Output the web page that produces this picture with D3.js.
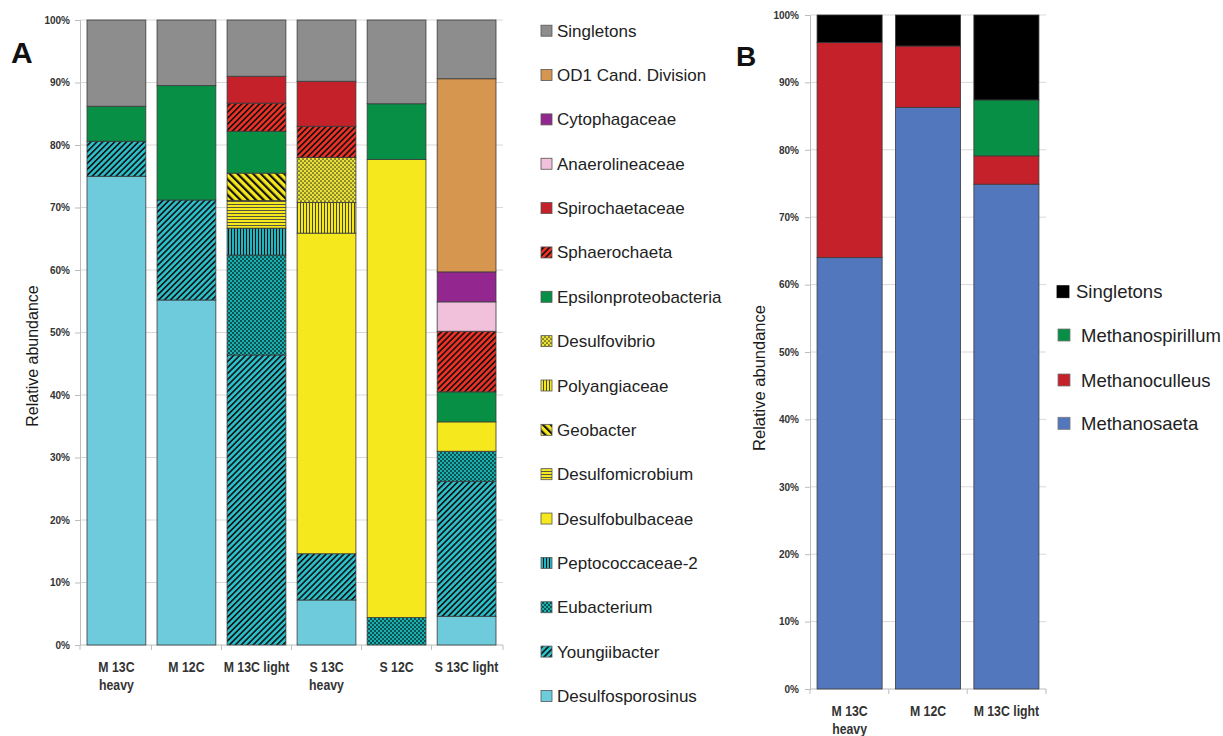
<!DOCTYPE html>
<html><head><meta charset="utf-8">
<script src="https://cdn.jsdelivr.net/npm/d3@7"></script>
<style>body{margin:0;background:#fff} svg{display:block;font-family:"Liberation Sans",Arial,sans-serif}</style>
</head><body><svg id="c" width="1223" height="736"></svg>
<script>
// ---------- DATA ----------
const samplesA = ["M 13C heavy","M 12C","M 13C light","S 13C heavy","S 12C","S 13C light"];
const xLabelsA = [["M 13C","heavy"],["M 12C"],["M 13C light"],["S 13C","heavy"],["S 12C"],["S 13C light"]];
const taxaA = ["Desulfosporosinus","Youngiibacter","Eubacterium","Peptococcaceae-2","Desulfobulbaceae",
  "Desulfomicrobium","Geobacter","Polyangiaceae","Desulfovibrio","Epsilonproteobacteria","Sphaerochaeta",
  "Spirochaetaceae","Anaerolineaceae","Cytophagaceae","OD1 Cand. Division","Singletons"];
const desulfosporosinus = [75, 55.2, 0, 7.2, 0, 4.6];
const youngiibacter     = [5.6, 16, 46.4, 7.4, 0, 21.6];
const eubacterium       = [0, 0, 16, 0, 4.4, 4.8];
const peptococcaceae2   = [0, 0, 4.3, 0, 0, 0];
const desulfobulbaceae  = [0, 0, 0, 51.3, 73.3, 4.7];
const desulfomicrobium  = [0, 0, 4.4, 0, 0, 0];
const geobacter         = [0, 0, 4.4, 0, 0, 0];
const polyangiaceae     = [0, 0, 0, 4.9, 0, 0];
const desulfovibrio     = [0, 0, 0, 7.2, 0, 0];
const epsilonproteo     = [5.6, 18.3, 6.7, 0, 8.9, 4.8];
const sphaerochaeta     = [0, 0, 4.5, 5, 0, 9.7];
const spirochaetaceae   = [0, 0, 4.3, 7.2, 0, 0];
const anaerolineaceae   = [0, 0, 0, 0, 0, 4.7];
const cytophagaceae     = [0, 0, 0, 0, 0, 4.8];
const od1               = [0, 0, 0, 0, 0, 30.9];
const singletonsA       = [13.8, 10.5, 9, 9.8, 13.4, 9.4];

const samplesB = ["M 13C heavy","M 12C","M 13C light"];
const xLabelsB = [["M 13C","heavy"],["M 12C"],["M 13C light"]];
const taxaB = ["Methanosaeta","Methanoculleus","Methanospirillum","Singletons"];
const methanosaeta     = [64, 86.3, 74.9];
const methanoculleus   = [31.9, 9.1, 4.2];
const methanospirillum = [0, 0, 8.3];
const singletonsB      = [4.1, 4.6, 12.6];

const yTicks = [0,10,20,30,40,50,60,70,80,90,100];

// ---------- STYLES ----------
const seriesA = [desulfosporosinus,youngiibacter,eubacterium,peptococcaceae2,desulfobulbaceae,desulfomicrobium,
  geobacter,polyangiaceae,desulfovibrio,epsilonproteo,sphaerochaeta,spirochaetaceae,anaerolineaceae,cytophagaceae,od1,singletonsA];
const seriesB = [methanosaeta,methanoculleus,methanospirillum,singletonsB];

const fillA = {
  "Desulfosporosinus":"#6dcbdc","Youngiibacter":"url(#pYoung)","Eubacterium":"url(#pEuba)",
  "Peptococcaceae-2":"url(#pPepto)","Desulfobulbaceae":"#f5e81c","Desulfomicrobium":"url(#pDmicro)",
  "Geobacter":"url(#pGeo)","Polyangiaceae":"url(#pPoly)","Desulfovibrio":"url(#pDvib)",
  "Epsilonproteobacteria":"#078f45","Sphaerochaeta":"url(#pSphaero)","Spirochaetaceae":"#c4212b",
  "Anaerolineaceae":"#f1c1dc","Cytophagaceae":"#93278f","OD1 Cand. Division":"#d6964f","Singletons":"#8d8d8d"};
const fillB = {"Methanosaeta":"#5277bd","Methanoculleus":"#c4212b","Methanospirillum":"#078f45","Singletons":"#000000"};

const svg = d3.select("#c");
const defs = svg.append("defs");

function stripes(id, bg, fg, size, lw, angle){
  const p = defs.append("pattern").attr("id",id).attr("patternUnits","userSpaceOnUse")
    .attr("width",size).attr("height",size).attr("patternTransform",`rotate(${angle})`);
  p.append("rect").attr("width",size).attr("height",size).attr("fill",bg);
  p.append("rect").attr("width",lw).attr("height",size).attr("fill",fg);
}
function lines(id, bg, fg, size, lw, vertical){
  const p = defs.append("pattern").attr("id",id).attr("patternUnits","userSpaceOnUse")
    .attr("width",size).attr("height",size);
  p.append("rect").attr("width",size).attr("height",size).attr("fill",bg);
  if (vertical) p.append("rect").attr("width",lw).attr("height",size).attr("fill",fg);
  else p.append("rect").attr("width",size).attr("height",lw).attr("fill",fg);
}
function dots(id, bg, fg, size, r){
  const p = defs.append("pattern").attr("id",id).attr("patternUnits","userSpaceOnUse")
    .attr("width",size).attr("height",size);
  p.append("rect").attr("width",size).attr("height",size).attr("fill",bg);
  [[size/4,size/4],[size*3/4,size*3/4]].forEach(([cx,cy])=>
    p.append("circle").attr("cx",cx).attr("cy",cy).attr("r",r).attr("fill",fg));
}
stripes("pYoung","#2bbfc9","#111",4.2,1.6,45);
stripes("pSphaero","#ee3124","#111",4.2,1.6,45);
stripes("pGeo","#f5e81c","#111",5.5,2.2,-45);
lines("pPepto","#22b5c0","#111",3,1,true);
lines("pPoly","#f5e81c","#333",3,0.9,true);
lines("pDmicro","#f5e81c","#444",3,0.9,false);
dots("pEuba","#1ab0b0","#0a2a2a",4,0.95);
dots("pDvib","#e9e03a","#3a3a1a",4,0.85);

// ---------- PANEL DRAW ----------
function panel(o){
  const g = svg.append("g");
  const x = d3.scaleBand().domain(o.samples).range([o.x0,o.x1]).paddingInner(o.pin).paddingOuter(o.pout);
  const y = d3.scaleLinear().domain([0,100]).range([o.y0,o.y1]);
  // gridlines
  g.append("g").selectAll("line").data(yTicks.slice(1)).join("line")
    .attr("x1",o.x0).attr("x2",o.x1).attr("y1",d=>y(d)).attr("y2",d=>y(d))
    .attr("stroke","#d9d9d9").attr("stroke-width",1);
  // y axis
  const ya = g.append("g").attr("transform",`translate(${o.x0},0)`)
    .call(d3.axisLeft(y).tickValues(yTicks).tickFormat(d=>d+"%").tickSize(5).tickPadding(o.tpad));
  ya.select(".domain").attr("stroke","#bdbdbd");
  ya.selectAll(".tick line").attr("stroke","#bdbdbd");
  ya.selectAll(".tick text").attr("font-family","Liberation Sans, Arial, sans-serif")
    .attr("font-size",10).attr("font-weight","bold").attr("fill","#333");
  // x axis line + band ticks
  g.append("line").attr("x1",o.x0).attr("x2",o.x1).attr("y1",o.y0).attr("y2",o.y0).attr("stroke","#bdbdbd");
  const bounds = d3.range(o.samples.length+1).map(i=> o.x0 + i*x.step() - (i===0?0:0));
  g.append("g").selectAll("line").data(o.samples.map((s,i)=>i).concat([o.samples.length])).join("line")
    .attr("x1",i=> i===0? o.x0 : (i===o.samples.length? o.x1 : x(o.samples[i]) - x.step()*x.paddingInner()/2))
    .attr("x2",i=> i===0? o.x0 : (i===o.samples.length? o.x1 : x(o.samples[i]) - x.step()*x.paddingInner()/2))
    .attr("y1",o.y0).attr("y2",o.y0+5).attr("stroke","#bdbdbd");
  // stacked bars
  const rows = o.samples.map((s,i)=>{ const r={sample:s}; o.taxa.forEach((t,j)=>r[t]=o.series[j][i]); return r; });
  const stack = d3.stack().keys(o.taxa)(rows);
  g.append("g").selectAll("g").data(stack).join("g").attr("fill",d=>o.fill[d.key])
    .selectAll("rect").data(d=>d.filter(p=>p[1]-p[0]>0)).join("rect")
    .attr("x",d=>x(d.data.sample)).attr("width",x.bandwidth())
    .attr("y",d=>y(d[1])).attr("height",d=>y(d[0])-y(d[1]))
    .attr("stroke","#3a3a3a").attr("stroke-width",0.8);
  // x labels
  o.samples.forEach((s,i)=>{
    o.xlabels[i].forEach((line,k)=>{
      g.append("text").attr("transform",`translate(${x(s)+x.bandwidth()/2},${o.y0+o.lab0+k*18}) scale(0.82,1)`)
        .attr("text-anchor","middle").attr("font-size",15).attr("font-weight","bold").attr("fill","#333").text(line);
    });
  });
  // y title
  g.append("text").attr("transform",`translate(${o.ytx},${o.yty}) rotate(-90)`).attr("text-anchor","middle")
    .attr("font-size",o.ytfs).attr("fill","#1a1a1a").text("Relative abundance");
  // panel letter
  g.append("text").attr("x",o.lx).attr("y",o.ly).attr("font-size",o.lfs).attr("font-weight","bold").attr("fill","#111").text(o.letter);
}

panel({samples:samplesA, xlabels:xLabelsA, taxa:taxaA, series:seriesA, fill:fillA,
  x0:80, x1:503, y0:645, y1:20, pin:0.16, pout:0.1, tpad:5, lab0:27,
  ytx:38, yty:356, ytfs:16, letter:"A", lx:11, ly:63, lfs:30});
panel({samples:samplesB, xlabels:xLabelsB, taxa:taxaB, series:seriesB, fill:fillB,
  x0:810, x1:1046, y0:689, y1:15, pin:0.17, pout:0.09, tpad:6, lab0:27,
  ytx:765, yty:378, ytfs:16.5, letter:"B", lx:736, ly:66, lfs:28});

// ---------- LEGENDS ----------
const legA = svg.append("g");
const legOrderA = taxaA.slice().reverse();
legOrderA.forEach((t,i)=>{
  const cy = 30.7 + i*44.35;
  legA.append("rect").attr("x",541).attr("y",cy-5.5).attr("width",11).attr("height",11)
    .attr("fill",fillA[t]).attr("stroke","#555").attr("stroke-width",0.8);
  legA.append("text").attr("x",557).attr("y",cy+6).attr("font-size",17).attr("fill","#222").text(t);
});
const legB = svg.append("g");
const legOrderB = taxaB.slice().reverse();
const legBY = [291.7, 335, 380, 423.3];
legOrderB.forEach((t,i)=>{
  const cy = legBY[i];
  const isS = t==="Singletons";
  legB.append("rect").attr("x",isS?1057:1058).attr("y",cy-6).attr("width",12).attr("height",12)
    .attr("fill",fillB[t]).attr("stroke",isS?"#000":"#777").attr("stroke-width",0.8);
  legB.append("text").attr("x",isS?1076:1081).attr("y",cy+6.5).attr("font-size",18.5).attr("fill","#222").text(t);
});
</script></body></html>
